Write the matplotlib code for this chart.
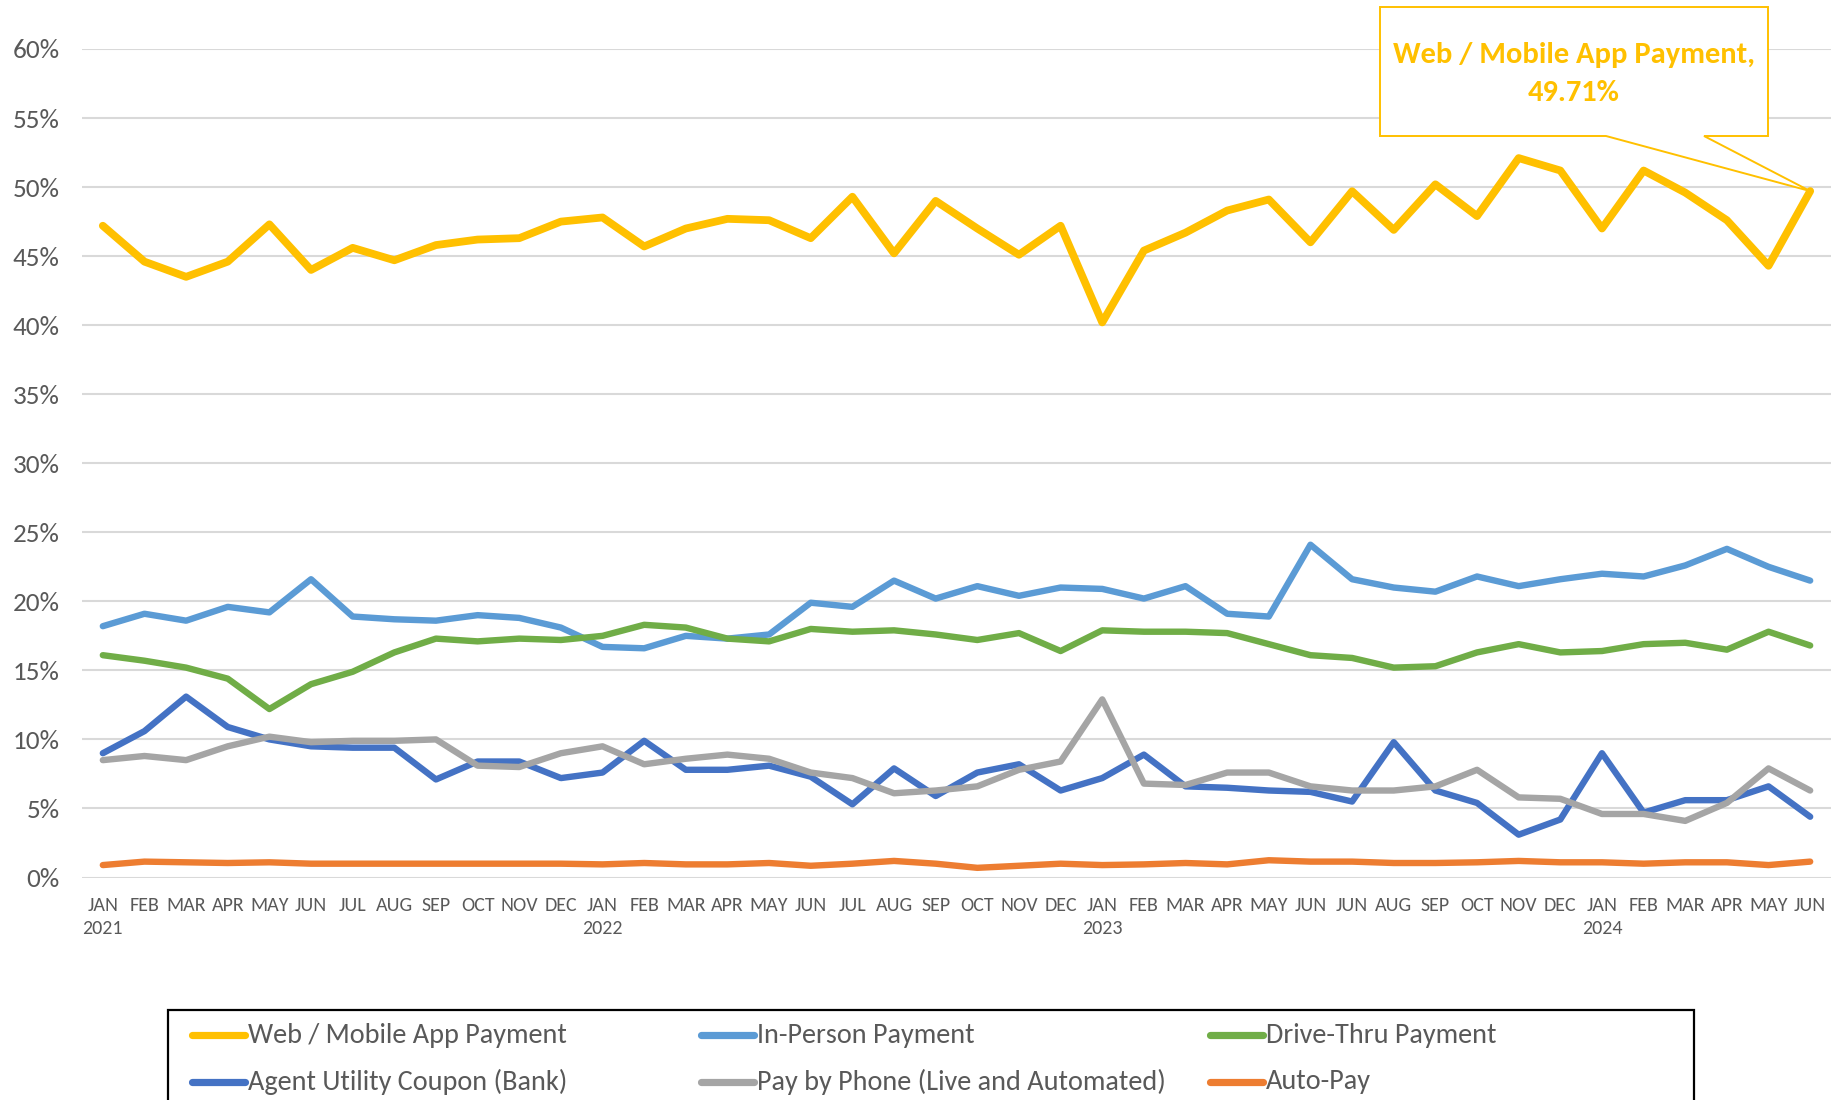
import matplotlib
matplotlib.use("Agg")
import matplotlib.pyplot as plt
from matplotlib import font_manager
from matplotlib.lines import Line2D
from matplotlib.patches import Polygon, Rectangle
from matplotlib.ticker import PercentFormatter

# --- data (percent of payments per month) ---
months = ["JAN", "FEB", "MAR", "APR", "MAY", "JUN", "JUL", "AUG", "SEP", "OCT", "NOV", "DEC",
          "JAN", "FEB", "MAR", "APR", "MAY", "JUN", "JUL", "AUG", "SEP", "OCT", "NOV", "DEC",
          "JAN", "FEB", "MAR", "APR", "MAY", "JUN", "JUN", "AUG", "SEP", "OCT", "NOV", "DEC",
          "JAN", "FEB", "MAR", "APR", "MAY", "JUN"]
years = {0: "2021", 12: "2022", 24: "2023", 36: "2024"}

web_mobile = [47.2, 44.6, 43.5, 44.6, 47.3, 44.0, 45.6, 44.7, 45.8, 46.2, 46.3, 47.5,
              47.8, 45.7, 47.0, 47.7, 47.6, 46.3, 49.3, 45.2, 49.0, 47.0, 45.1, 47.2,
              40.2, 45.4, 46.7, 48.3, 49.1, 46.0, 49.7, 46.9, 50.2, 47.9, 52.1, 51.2,
              47.0, 51.2, 49.6, 47.6, 44.3, 49.71]
in_person = [18.2, 19.1, 18.6, 19.6, 19.2, 21.6, 18.9, 18.7, 18.6, 19.0, 18.8, 18.1,
             16.7, 16.6, 17.5, 17.3, 17.6, 19.9, 19.6, 21.5, 20.2, 21.1, 20.4, 21.0,
             20.9, 20.2, 21.1, 19.1, 18.9, 24.1, 21.6, 21.0, 20.7, 21.8, 21.1, 21.6,
             22.0, 21.8, 22.6, 23.8, 22.5, 21.5]
drive_thru = [16.1, 15.7, 15.2, 14.4, 12.2, 14.0, 14.9, 16.3, 17.3, 17.1, 17.3, 17.2,
              17.5, 18.3, 18.1, 17.3, 17.1, 18.0, 17.8, 17.9, 17.6, 17.2, 17.7, 16.4,
              17.9, 17.8, 17.8, 17.7, 16.9, 16.1, 15.9, 15.2, 15.3, 16.3, 16.9, 16.3,
              16.4, 16.9, 17.0, 16.5, 17.8, 16.8]
agent_coupon = [9.0, 10.6, 13.1, 10.9, 10.0, 9.5, 9.4, 9.4, 7.1, 8.4, 8.4, 7.2,
                7.6, 9.9, 7.8, 7.8, 8.1, 7.3, 5.3, 7.9, 5.9, 7.6, 8.2, 6.3,
                7.2, 8.9, 6.6, 6.5, 6.3, 6.2, 5.5, 9.8, 6.3, 5.4, 3.1, 4.2,
                9.0, 4.7, 5.6, 5.6, 6.6, 4.4]
pay_by_phone = [8.5, 8.8, 8.5, 9.5, 10.2, 9.8, 9.9, 9.9, 10.0, 8.1, 8.0, 9.0,
                9.5, 8.2, 8.6, 8.9, 8.6, 7.6, 7.2, 6.1, 6.3, 6.6, 7.8, 8.4,
                12.9, 6.8, 6.7, 7.6, 7.6, 6.6, 6.3, 6.3, 6.6, 7.8, 5.8, 5.7,
                4.6, 4.6, 4.1, 5.4, 7.9, 6.3]
auto_pay = [0.9, 1.15, 1.1, 1.05, 1.1, 1.0, 1.0, 1.0, 1.0, 1.0, 1.0, 1.0,
            0.95, 1.05, 0.95, 0.95, 1.05, 0.85, 1.0, 1.2, 1.0, 0.7, 0.85, 1.0,
            0.9, 0.95, 1.05, 0.95, 1.25, 1.15, 1.15, 1.05, 1.05, 1.1, 1.2, 1.1,
            1.1, 1.0, 1.1, 1.1, 0.9, 1.15]

series = [
    ("Web / Mobile App Payment", web_mobile, "#FFC000", 5.6),
    ("In-Person Payment", in_person, "#5B9BD5", 4.6),
    ("Drive-Thru Payment", drive_thru, "#70AD47", 4.6),
    ("Agent Utility Coupon (Bank)", agent_coupon, "#4472C4", 4.6),
    ("Pay by Phone (Live and Automated)", pay_by_phone, "#A5A5A5", 4.6),
    ("Auto-Pay", auto_pay, "#ED7D31", 4.6),
]

installed = {f.name for f in font_manager.fontManager.ttflist}
narrow = next((f for f in ["Carlito", "Liberation Sans Narrow", "Open Sans"] if f in installed),
              "DejaVu Sans")
bold_font = "Carlito" if "Carlito" in installed else "Liberation Sans"
plt.rcParams["font.family"] = [narrow, "DejaVu Sans"]

TXT = "#595959"
W, H = 1837, 1100
fig = plt.figure(figsize=(W / 100, H / 100), dpi=100)
ax = fig.add_axes([82 / W, 1 - 877.5 / H, 1749 / W, 828.5 / H])

x = list(range(len(months)))
for name, vals, color, lw in series:
    ax.plot(x, vals, color=color, lw=lw, solid_joinstyle="round",
            solid_capstyle="round", label=name)

ax.set_xlim(-0.5, len(months) - 0.5)
ax.set_ylim(0, 60)
ax.set_yticks(range(0, 61, 5))
ax.yaxis.set_major_formatter(PercentFormatter(xmax=100, decimals=0))
ax.set_xticks(x)
ax.set_xticklabels([m + ("\n" + years[i] if i in years else "") for i, m in enumerate(months)],
                   linespacing=1.45)
ax.tick_params(axis="y", length=0, pad=16, labelsize=19.5, labelcolor=TXT)
ax.tick_params(axis="x", length=0, pad=14, labelsize=14.4, labelcolor=TXT)
ax.grid(axis="y", color="#D9D9D9", lw=1.5)
ax.set_axisbelow(True)
for s in ax.spines.values():
    s.set_visible(False)

# --- callout for the last web/mobile value ---
fig.canvas.draw()
to_fig = fig.transFigure.inverted()
tip = to_fig.transform(ax.transData.transform((len(months) - 1, web_mobile[-1])))


def fp(px, py):
    return (px / W, 1 - py / H)


pts = [fp(1380, 7), fp(1768, 7), fp(1768, 136), fp(1704, 136), tuple(tip),
       fp(1606, 136), fp(1380, 136)]
fig.add_artist(Polygon(pts, closed=True, facecolor="white", edgecolor="#FFC000",
                       lw=1.4, zorder=5))
fig.text(1574 / W, 1 - 55 / H, "Web / Mobile App Payment,", ha="center", va="center",
         color="#FFC000", fontsize=22, fontweight="bold", family=bold_font, zorder=6)
fig.text(1574 / W, 1 - 93 / H, f"{web_mobile[-1]:.2f}%", ha="center", va="center",
         color="#FFC000", fontsize=22, fontweight="bold", family=bold_font, zorder=6)

# --- legend drawn as a box under the chart ---
fig.add_artist(Rectangle(fp(167.5, 1135), (1694 - 167.5) / W, 125 / H, transform=fig.transFigure,
                         facecolor="none", edgecolor="black", lw=1.6))
col_x = [192, 701, 1210]
row_y = [1035, 1082]
for i, (name, vals, color, lw) in enumerate(series):
    cx, cy = col_x[i % 3], row_y[i // 3]
    fig.add_artist(Line2D([cx / W, (cx + 53) / W], [1 - cy / H] * 2, color=color, lw=5.2,
                          solid_capstyle="round"))
    fig.text((cx + 56) / W, 1 - cy / H, name, ha="left", va="center", color=TXT, fontsize=20.3)

fig.savefig("out.png", dpi=100)
